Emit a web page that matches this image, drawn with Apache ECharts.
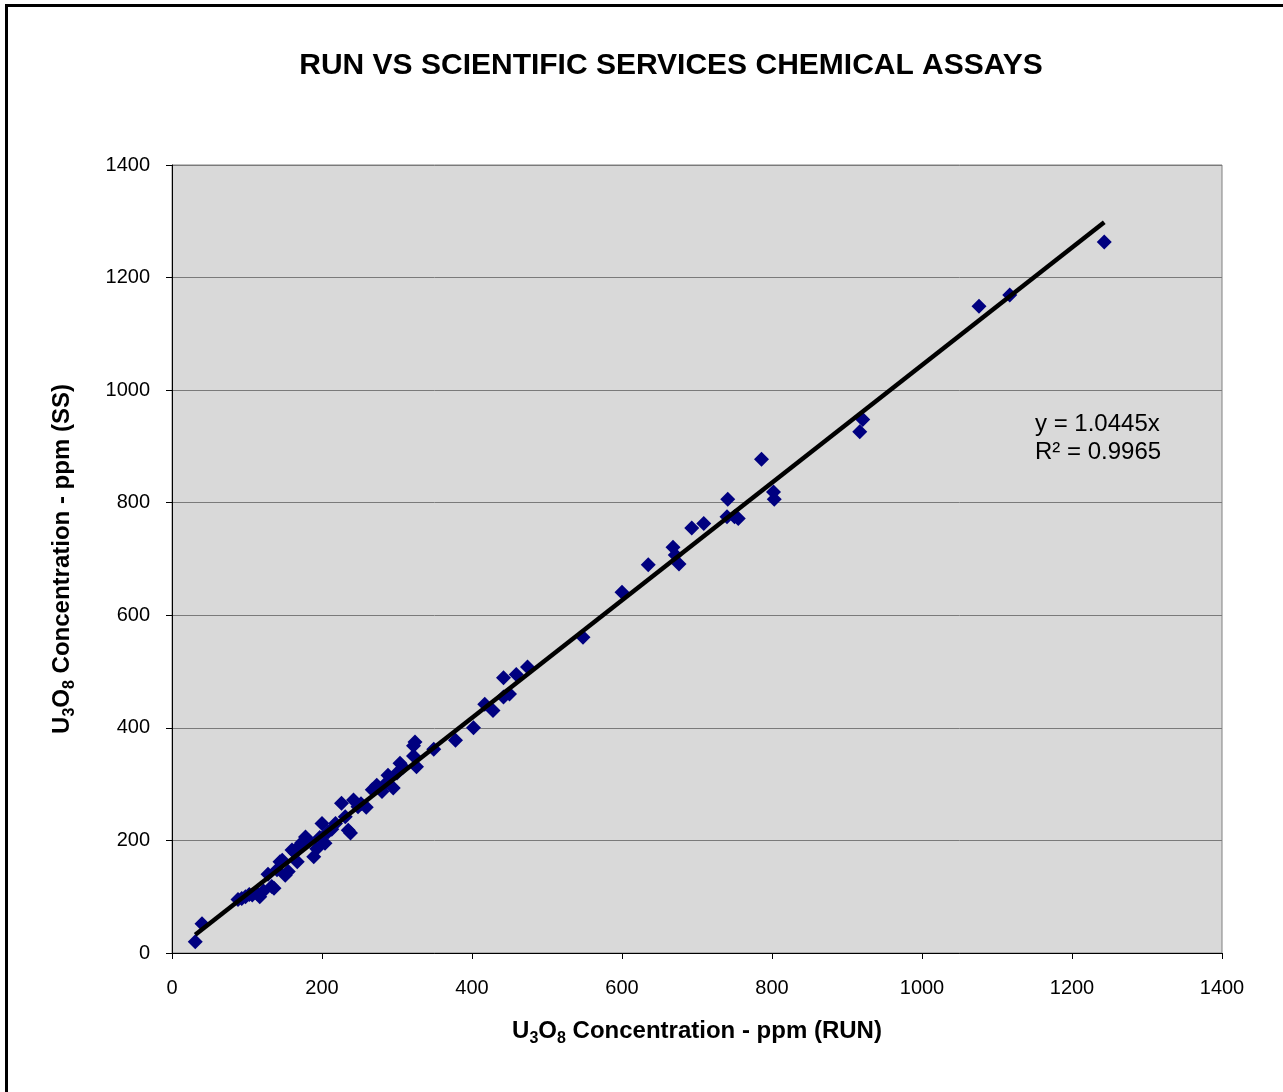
<!DOCTYPE html>
<html><head><meta charset="utf-8">
<script src="https://cdn.jsdelivr.net/npm/echarts@6/dist/echarts.min.js"></script>
<style>
html,body{margin:0;padding:0;background:#fff;overflow:hidden;}
#frame{position:absolute;left:5px;top:4px;width:1300px;height:1120px;border:3px solid #000;box-sizing:border-box;}
#main{position:absolute;left:0;top:0;width:1283px;height:1092px;}
</style></head>
<body>
<div id="frame"></div>
<div id="main"></div>
<script>
const titleText = 'RUN VS SCIENTIFIC SERVICES CHEMICAL ASSAYS';
const runX = [31,40,88,93,98,103,107,113,117,122,128,133,136,140,144,147,151,155,160,164,167,169,173,178,182,189,193,197,200,204,208,213,218,226,231,235,238,242,248,252,259,267,273,280,284,288,295,300,304,308,322,324,326,322,349,378,402,417,428,442,442,450,459,474,548,600,635,668,671,676,693,709,740,741,750,755,786,802,803,917,921,1076,1117,1243];
const ssY  = [20,52,95,97,100,104,103,106,100,110,140,118,115,148,162,165,138,145,183,178,162,189,196,206,200,171,185,205,230,195,215,220,230,266,242,218,213,272,260,265,259,290,298,287,300,316,293,320,337,330,350,375,331,368,362,378,400,442,431,489,455,460,495,508,561,641,690,721,707,691,755,763,775,806,775,772,877,819,806,926,948,1149,1169,1263];
const slope = 1.0445;
const r2 = 0.9965;

const pts = runX.map((x,i)=>[x, ssY[i]]);
const xMin = Math.min(...runX), xMax = Math.max(...runX);
const trend = [[xMin, slope*xMin],[xMax, slope*xMax]];

const chart = echarts.init(document.getElementById('main'));
const FF = 'Liberation Sans, Arial';
const nameRich = {
  b:{fontFamily:FF,fontWeight:'bold',fontSize:24,color:'#000',lineHeight:32,verticalAlign:'middle'},
  s:{fontFamily:FF,fontWeight:'bold',fontSize:16,color:'#000',lineHeight:32,verticalAlign:'bottom'}
};
const axisCommon = {
  type:'value', min:0, max:1400, interval:200,
  axisLine:{show:true,lineStyle:{color:'#000',width:1}},
  axisTick:{show:true,length:6,lineStyle:{color:'#000'}},
  axisLabel:{fontFamily:FF,fontSize:20,color:'#000',formatter:v=>String(v)},
  splitLine:{show:false}
};
chart.setOption({
  animation:false,
  title:{text:titleText,left:666,top:46,textAlign:'center',
    textStyle:{fontFamily:FF,fontWeight:'bold',fontSize:30,color:'#000'}},
  grid:{left:172,top:165,right:61,bottom:139,show:true,backgroundColor:'#D9D9D9',borderColor:'#808080',borderWidth:1},
  xAxis:Object.assign({},axisCommon,{
    name:'{b|U}{s|3}{b|O}{s|8}{b| Concentration - ppm (RUN)}',
    nameLocation:'middle',nameGap:62,nameTextStyle:{rich:nameRich},
    axisLabel:Object.assign({},axisCommon.axisLabel,{margin:25})
  }),
  yAxis:Object.assign({},axisCommon,{
    name:'{b|U}{s|3}{b|O}{s|8}{b| Concentration - ppm (SS)}',
    nameLocation:'middle',nameGap:94,nameTextStyle:{rich:nameRich},
    axisLabel:Object.assign({},axisCommon.axisLabel,{margin:22}),
    splitLine:{show:true,lineStyle:{color:'#7a7a7a',width:1}}
  }),
  graphic:[
    {type:'text',left:1035,top:412,style:{text:'y = '+slope.toFixed(4)+'x',font:'24px "Liberation Sans", Arial',fill:'#000'}},
    {type:'text',left:1035,top:440,style:{text:'R² = '+r2.toFixed(4),font:'24px "Liberation Sans", Arial',fill:'#000'}}
  ],
  series:[
    {type:'scatter',data:pts,symbol:'diamond',symbolSize:15,itemStyle:{color:'#000080',opacity:1},z:2},
    {type:'line',data:trend,symbol:'none',lineStyle:{color:'#000',width:4.5},z:3}
  ]
});
</script>
</body></html>
